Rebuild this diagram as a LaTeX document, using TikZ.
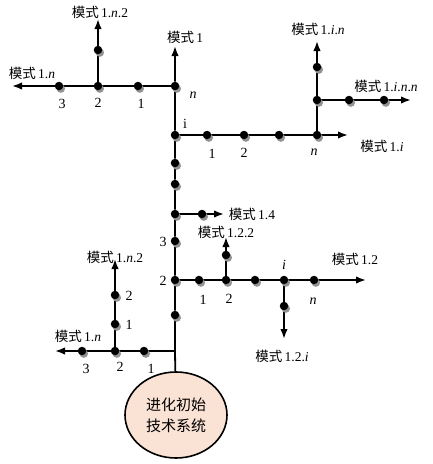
\documentclass[tikz,border=0pt]{standalone}
\usepackage{fontspec}
\setmainfont{Liberation Serif}
\newfontfamily\cjk{Noto Sans CJK SC}
\usetikzlibrary{arrows.meta,shapes.geometric,shadows,backgrounds}
\definecolor{RootFill}{RGB}{250,226,212}
\newcommand\moshi[1]{{\cjk 模式}\,#1}

\begin{document}
\begin{tikzpicture}[x=1pt,y=-1pt,>={Latex[length=10pt,width=7.5pt]},every node/.style={font=\fontsize{13.5}{15}\selectfont}]
\tikzset{dot/.style={circle,fill=black,inner sep=0pt,minimum size=8.5pt,drop shadow={shadow xshift=1.8pt,shadow yshift=-2.6pt,fill=gray!85,opacity=1}},
  lnk/.style={line width=1.8pt},
  num/.style={inner sep=1pt,font=\fontsize{14}{15}\selectfont}}
\useasboundingbox (0,0) rectangle (433,464);
% initial system
\node[ellipse,draw,line width=1.6pt,fill=RootFill,minimum width=102pt,minimum height=86pt,align=center,font=\cjk\fontsize{15}{21}\selectfont] (root) at (176,415) {进化初始\\技术系统};
% trunk
\node[dot] (t1) at (175,86) {};
\node[dot] (t2) at (175,135) {};
\node[dot] (t3) at (175,163) {};
\node[dot] (t4) at (175,184) {};
\node[dot] (t5) at (175,214) {};
\node[dot] (t6) at (175,241) {};
\node[dot] (t7) at (175,280) {};
\node[dot] (t8) at (175,315) {};
\coordinate (tj) at (175,351);
\coordinate (tipA) at (175,46);
% top left branch
\node[dot] (a1) at (138,86) {};
\node[dot] (a2) at (98,86) {};
\node[dot] (a3) at (59,86) {};
\node[dot] (a4) at (98,50) {};
\coordinate (tipB) at (12,86);
\coordinate (tipC) at (98,19);
% top right branch
\node[dot] (b1) at (207,135) {};
\node[dot] (b2) at (244,135) {};
\node[dot] (b3) at (279,135) {};
\node[dot] (b4) at (317,135) {};
\node[dot] (b5) at (317,100) {};
\node[dot] (b6) at (317,67) {};
\node[dot] (b7) at (349,100) {};
\node[dot] (b8) at (384,100) {};
\coordinate (tipD) at (348,135);
\coordinate (tipE) at (317,41);
\coordinate (tipF) at (411,100);
% branch 1.4
\node[dot] (c1) at (202,214) {};
\coordinate (tipG) at (224,214);
% branch 1.2
\node[dot] (d1) at (199,280) {};
\node[dot] (d2) at (226,280) {};
\node[dot] (d3) at (255,280) {};
\node[dot] (d4) at (284,280) {};
\node[dot] (d5) at (314,280) {};
\node[dot] (d6) at (226,255) {};
\node[dot] (d7) at (284,306) {};
\coordinate (tipH) at (366,280);
\coordinate (tipI) at (226,237);
\coordinate (tipJ) at (284,339);
% bottom left branch
\node[dot] (e1) at (144,351) {};
\node[dot] (e2) at (115,351) {};
\node[dot] (e3) at (82,351) {};
\node[dot] (e4) at (115,324) {};
\node[dot] (e5) at (115,295) {};
\coordinate (tipK) at (55,351);
\coordinate (tipL) at (115,259);
% mode labels
\node (m1) at (185,37) {\moshi{1}};
\node (m1n) at (32,73) {\moshi{1.\textit{n}}};
\node (m1n2) at (100,12) {\moshi{1.\textit{n}.2}};
\node (m1in) at (318,29) {\moshi{1.\textit{i}.\textit{n}}};
\node (m1inn) at (386,86) {\moshi{1.\textit{i}.\textit{n}.\textit{n}}};
\node (m1i) at (382,146) {\moshi{1.\textit{i}}};
\node (m14) at (252,214) {\moshi{1.4}};
\node (m122) at (226,232) {\moshi{1.2.2}};
\node (m12) at (355,259) {\moshi{1.2}};
\node (m12i) at (282,356) {\moshi{1.2.\textit{i}}};
\node (m1n2b) at (115,257) {\moshi{1.\textit{n}.2}};
\node (m1nb) at (78,336) {\moshi{1.\textit{n}}};
% step numbers
\node[num] (na3) at (62,104) {3};
\node[num] (na2) at (98,103) {2};
\node[num] (na1) at (141,104) {1};
\node[num] (ntn) at (193,95) {\textit{n}};
\node[num] (nti) at (185,124) {i};
\node[num] (nb1) at (212,154) {1};
\node[num] (nb2) at (244,153) {2};
\node[num] (nbn) at (314,152) {\textit{n}};
\node[num] (nt3) at (163,242) {3};
\node[num] (nt2) at (163,281) {2};
\node[num] (nd1) at (203,300) {1};
\node[num] (nd2) at (229,299) {2};
\node[num] (ndi) at (284,265) {\textit{i}};
\node[num] (ndn) at (313,301) {\textit{n}};
\node[num] (ne1) at (129,325) {1};
\node[num] (ne2) at (129,296) {2};
\node[num] (ne3) at (86,369) {3};
\node[num] (nee) at (120,367) {2};
\node[num] (ne1b) at (151,369) {1};
\begin{scope}[on background layer]
\draw[lnk,->] (root) -- (tj) -- (t8) -- (t7) -- (t6) -- (t5) -- (t4) -- (t3) -- (t2) -- (t1) -- (tipA);
\draw[lnk,->] (t1) -- (a1) -- (a2) -- (a3) -- (tipB);
\draw[lnk,->] (a2) -- (a4) -- (tipC);
\draw[lnk,->] (t2) -- (b1) -- (b2) -- (b3) -- (b4) -- (tipD);
\draw[lnk,->] (b4) -- (b5) -- (b6) -- (tipE);
\draw[lnk,->] (b5) -- (b7) -- (b8) -- (tipF);
\draw[lnk,->] (t5) -- (c1) -- (tipG);
\draw[lnk,->] (t7) -- (d1) -- (d2) -- (d3) -- (d4) -- (d5) -- (tipH);
\draw[lnk,->] (d2) -- (d6) -- (tipI);
\draw[lnk,->] (d4) -- (d7) -- (tipJ);
\draw[lnk,->] (tj) -- (e1) -- (e2) -- (e3) -- (tipK);
\draw[lnk,->] (e2) -- (e4) -- (e5) -- (tipL);
\end{scope}
\end{tikzpicture}
\end{document}
